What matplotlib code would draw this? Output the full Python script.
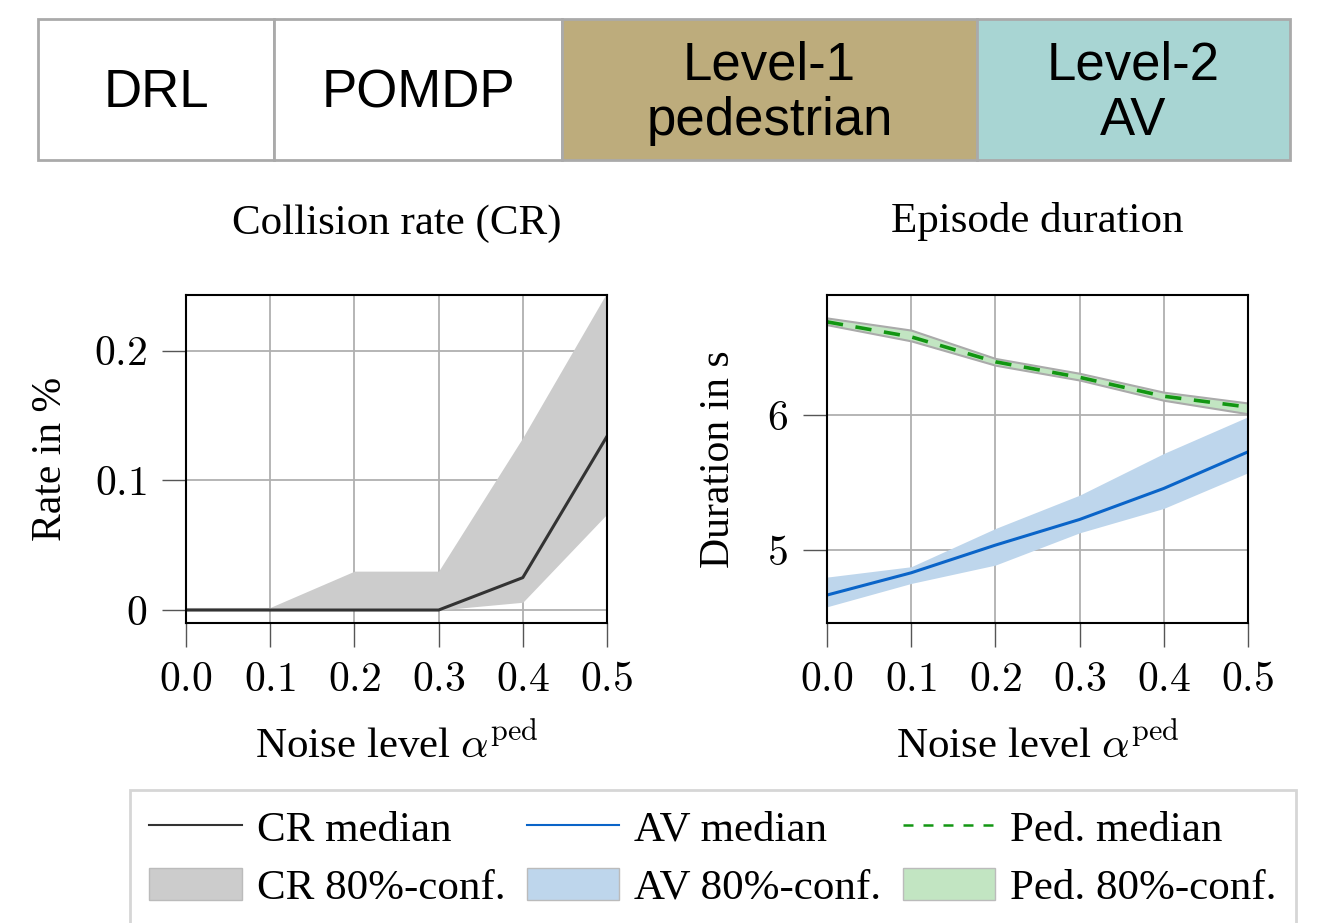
import matplotlib.pyplot as plt
import numpy as np
from matplotlib.patches import Rectangle, Patch
from matplotlib.lines import Line2D

plt.rcParams['mathtext.fontset'] = 'cm'
plt.rcParams['font.family'] = ['Liberation Serif', 'DejaVu Serif']

# data
noise = [0.0, 0.1, 0.2, 0.3, 0.4, 0.5]

cr_median = [0.0, 0.0, 0.0, 0.0, 0.025, 0.134]
cr_low = [0.0, 0.0, 0.0, 0.0, 0.006, 0.074]
cr_high = [0.002, 0.002, 0.030, 0.030, 0.133, 0.245]

av_median = [4.667, 4.832, 5.037, 5.227, 5.457, 5.728]
av_low = [4.58, 4.753, 4.889, 5.128, 5.309, 5.573]
av_high = [4.80, 4.877, 5.16, 5.407, 5.716, 5.988]

ped_median = [6.691, 6.58, 6.395, 6.28, 6.14, 6.06]
ped_low = [6.67, 6.55, 6.37, 6.26, 6.11, 6.01]
ped_high = [6.72, 6.63, 6.42, 6.31, 6.17, 6.09]

box_labels = ["DRL", "POMDP", "Level-1\npedestrian", "Level-2\nAV"]
box_colors = ["white", "white", "#bdac7c", "#a8d5d3"]

W, H = 1340, 923
fig = plt.figure(figsize=(13.4, 9.23), dpi=100)

# header boxes (pixel coordinates)
hdr = fig.add_axes([0, 0, 1, 1])
hdr.set_xlim(0, W)
hdr.set_ylim(H, 0)
hdr.axis('off')
edges = [38, 274, 562, 977, 1290]
for i, (lab, col) in enumerate(zip(box_labels, box_colors)):
    hdr.add_patch(Rectangle((edges[i], 19), edges[i+1]-edges[i], 141,
                            facecolor=col, edgecolor='#aaaaaa', lw=2))
    hdr.text((edges[i]+edges[i+1])/2, 93, lab, ha='center', va='center',
             fontsize=38, family='Liberation Sans', linespacing=1.15)

def style(ax):
    ax.set_xlim(0, 0.5)
    ax.set_xticks(noise)
    ax.set_xticklabels(["$%.1f$" % v for v in noise])
    ax.grid(True, color='#b0b0b0', lw=1.3)
    ax.set_axisbelow(True)
    for s in ax.spines.values():
        s.set_linewidth(1.5)
    ax.tick_params(direction='out', length=17, width=1, color='#555555',
                   labelsize=30, pad=11)

xlab = r"Noise level $\alpha^{\mathrm{ped}}$"

ax1 = fig.add_axes([186/W, 1-623/H, 421/W, 328/H])
ax1.fill_between(noise, cr_low, cr_high, color='#cccccc', lw=0)
ax1.plot(noise, cr_median, color='#333333', lw=2.2)
ax1.set_ylim(-0.01, 0.243)
ax1.set_yticks([0, 0.1, 0.2])
ax1.set_yticklabels(["$0$", "$0.1$", "$0.2$"])
style(ax1)
ax1.text(0.5, 1.216, "Collision rate (CR)", transform=ax1.transAxes,
         ha='center', va='center', fontsize=31)
ax1.text(0.5, -0.372, xlab, transform=ax1.transAxes,
         ha='center', va='center', fontsize=31)
ax1.text(-0.322, 0.5, "Rate in %", transform=ax1.transAxes,
         ha='center', va='center', rotation=90, fontsize=30)

ax2 = fig.add_axes([827/W, 1-623/H, 421/W, 328/H])
ax2.fill_between(noise, av_low, av_high, color='#bed6ec', lw=0)
ax2.fill_between(noise, ped_low, ped_high, facecolor='#c2e5c2',
                 edgecolor='#aaaaaa', lw=1.5)
ax2.plot(noise, av_median, color='#0a64c8', lw=2.2)
ax2.plot(noise, ped_median, color='#129612', lw=2.6, ls=(0, (4.5, 3.5)))
ax2.set_ylim(4.46, 6.89)
ax2.set_yticks([5, 6])
ax2.set_yticklabels(["$5$", "$6$"])
style(ax2)
ax2.text(0.5, 1.223, "Episode duration", transform=ax2.transAxes,
         ha='center', va='center', fontsize=31)
ax2.text(0.5, -0.372, xlab, transform=ax2.transAxes,
         ha='center', va='center', fontsize=31)
ax2.text(-0.256, 0.5, "Duration in s", transform=ax2.transAxes,
         ha='center', va='center', rotation=90, fontsize=30)

handles = [
    Line2D([], [], color='#333333', lw=1.5),
    Patch(facecolor='#cccccc', edgecolor='#bbbbbb'),
    Line2D([], [], color='#0a64c8', lw=1.5),
    Patch(facecolor='#bed6ec', edgecolor='#bbbbbb'),
    Line2D([], [], color='#129612', lw=1.8, ls=(0, (4, 4))),
    Patch(facecolor='#c2e5c2', edgecolor='#bbbbbb'),
]
labels = ["CR median", "CR 80%-conf.", "AV median", "AV 80%-conf.",
          "Ped. median", "Ped. 80%-conf."]
leg = fig.legend(handles, labels, ncol=3, loc='upper left',
                 bbox_to_anchor=(130/W, 1-790/H), fontsize=31,
                 frameon=True, fancybox=False, edgecolor='#cccccc',
                 handlelength=2.14, handleheight=0.78, handletextpad=0.35,
                 columnspacing=0.5, borderpad=0.45, labelspacing=0.42,
                 borderaxespad=0)
leg.get_frame().set_linewidth(2)

fig.savefig("out.png", dpi=100)
